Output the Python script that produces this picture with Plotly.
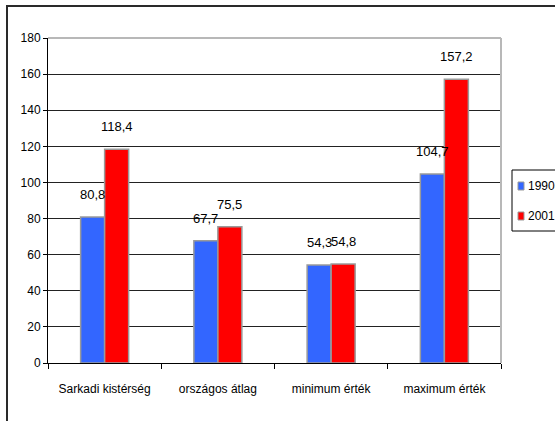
import plotly.graph_objects as go

categories = ["Sarkadi kistérség", "országos átlag", "minimum érték", "maximum érték"]
series_names = ["1990", "2001"]
values_1990 = [80.8, 67.7, 54.3, 104.7]
values_2001 = [118.4, 75.5, 54.8, 157.2]
colors = ["#3366FF", "#FF0000"]
y_ticks = [0, 20, 40, 60, 80, 100, 120, 140, 160, 180]

FONT = "Liberation Sans, Arial, sans-serif"
W, H = 555, 421
ML, MR, MT, MB = 48, 54, 38, 58
PW, PH = W - ML - MR, H - MT - MB


def px_x(x):
    return (x - ML) / PW


def px_y(y):
    return (H - MB - y) / PH


fig = go.Figure()
all_vals = [values_1990, values_2001]
for name, vals, col in zip(series_names, all_vals, colors):
    fig.add_trace(go.Bar(
        x=categories, y=vals, name=name,
        marker=dict(color=col, line=dict(color="#9a9a9a", width=1.5)),
        showlegend=False,
    ))

# data labels
bar_w = PW / len(categories) * (1 - 0.576) / 2
for i, vals in enumerate(all_vals):
    shift = (i - 0.5) * bar_w
    for c, v in zip(categories, vals):
        fig.add_annotation(
            x=c, y=v, text=f"{v:.1f}".replace(".", ","), showarrow=False,
            xanchor="center", yanchor="bottom", xshift=shift, yshift=13,
            font=dict(family=FONT, size=13, color="black"),
        )

shapes = []
# outer frame
shapes.append(dict(type="rect", xref="paper", yref="paper",
                   x0=px_x(7), x1=px_x(562), y0=px_y(430), y1=px_y(6),
                   line=dict(color="#2a2a2a", width=2), layer="below"))
# plot area top/right border
shapes.append(dict(type="line", xref="paper", yref="paper", x0=0, x1=1, y0=1, y1=1,
                   line=dict(color="#b8b8b8", width=2), layer="above"))
shapes.append(dict(type="line", xref="paper", yref="paper", x0=1, x1=1, y0=0, y1=1,
                   line=dict(color="#b8b8b8", width=2), layer="above"))
# custom legend box
shapes.append(dict(type="rect", xref="paper", yref="paper",
                   x0=px_x(512), x1=px_x(570), y0=px_y(231), y1=px_y(170),
                   line=dict(color="black", width=1), fillcolor="white"))
leg_y = [186, 216]
for name, col, yc in zip(series_names, colors, leg_y):
    shapes.append(dict(type="rect", xref="paper", yref="paper",
                       x0=px_x(518), x1=px_x(524), y0=px_y(yc + 4), y1=px_y(yc - 4),
                       line=dict(color="#9a9a9a", width=1), fillcolor=col))
    fig.add_annotation(xref="paper", yref="paper", x=px_x(526), y=px_y(yc),
                       text=name, showarrow=False, xanchor="left", yanchor="middle",
                       font=dict(family=FONT, size=12, color="black"))

fig.update_layout(
    width=W, height=H,
    margin=dict(l=ML, r=MR, t=MT, b=MB, autoexpand=False),
    paper_bgcolor="white", plot_bgcolor="white",
    barmode="group", bargap=0.576, bargroupgap=0,
    font=dict(family=FONT, size=12, color="black"),
    shapes=shapes,
    showlegend=False,
)
fig.update_xaxes(
    type="category", tickson="boundaries", ticks="outside", ticklen=5,
    tickcolor="black", showline=True, linecolor="black", linewidth=1,
    showgrid=False, ticklabelstandoff=15, tickangle=0,
    tickfont=dict(family=FONT, size=12),
)
fig.update_yaxes(
    range=[0, 180], tickvals=y_ticks, ticks="outside", ticklen=4,
    tickcolor="black", showline=True, linecolor="black", linewidth=1,
    showgrid=True, gridcolor="#222222", gridwidth=1, zeroline=False,
    tickfont=dict(family=FONT, size=12),
)

fig.write_html(
    "out.html",
    config={"displayModeBar": False},
    post_script="document.body.style.margin='0';document.body.style.overflow='hidden';",
)
